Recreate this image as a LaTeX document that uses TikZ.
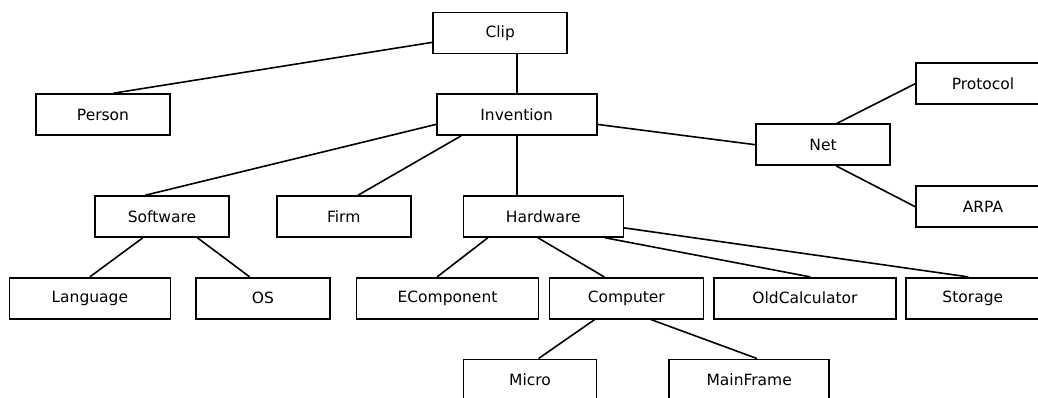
\documentclass[tikz,border=0pt]{standalone}
\usepackage{fontspec}
\setmainfont{DejaVu Sans}
\usepackage{tikz}
\usetikzlibrary{calc}
\tikzstyle{box} = [draw,rectangle,line width=1.6pt,minimum height=41pt,inner sep=0pt,
	font=\fontsize{15.5}{18}\selectfont]
\tikzstyle{link} = [line width=1.6pt]

\begin{document}
\begin{tikzpicture}[x=1pt,y=-1pt]
   \clip (0,0) rectangle (1038,397);
   % top levels
   \node[box,minimum width=134pt] (clip) at (500.2,32.8) {Clip};
   \node[box,minimum width=134pt] (person) at (103,114.5) {Person};
   \node[box,minimum width=160pt] (invention) at (516.7,114.5) {Invention};
   \node[box,minimum width=134pt] (net) at (823,144.7) {Net};
   \node[box,minimum width=134pt] (protocol) at (983,83.7) {Protocol};
   \node[box,minimum width=134pt] (arpa) at (983,206.7) {ARPA};
   \node[box,minimum width=134pt] (software) at (162,216.5) {Software};
   \node[box,minimum width=134pt] (firm) at (343.7,216.5) {Firm};
   \node[box,minimum width=160pt] (hardware) at (543.3,216.5) {Hardware};
   % leaves
   \node[box,minimum width=161pt] (language) at (89.8,298.2) {Language};
   \node[box,minimum width=134pt] (os) at (263,298.2) {OS};
   \node[box,minimum width=182pt] (ecomp) at (447.5,298.2) {EComponent};
   \node[box,minimum width=154pt] (computer) at (626.3,298.2) {Computer};
   \node[box,minimum width=182pt] (oldcalc) at (805,298.2) {OldCalculator};
   \node[box,minimum width=134pt] (storage) at (972.8,298.2) {Storage};
   \node[box,minimum width=133pt] (micro) at (530,379.8) {Micro};
   \node[box,minimum width=160pt] (mainframe) at (749.2,379.8) {MainFrame};

   \draw[link] (clip.188) -- (person.64);
   \draw[link] (invention.north) -- (invention.north |- clip.south);
   \draw[link] (invention.187.5) -- (software.128);
   \draw[link] (invention.201) -- (firm.56.8);
   \draw[link] (invention.south) -- (invention.south |- hardware.north);
   \draw[link] (invention.353) -- (net.west);
   \draw[link] (net.57.5) -- (protocol.west);
   \draw[link] (net.302.5) -- (arpa.west);
   \draw[link] (software.228) -- (language.north);
   \draw[link] (software.329) -- (os.122.4);
   \draw[link] (hardware.201.3) -- (ecomp.116.5);
   \draw[link] (hardware.256.5) -- (computer.136.1);
   \draw[link] (hardware.341.8) -- (oldcalc.76);
   \draw[link] (hardware.352.3) -- (storage.102.4);
   \draw[link] (computer.214) -- (micro.68);
   \draw[link] (computer.319) -- (mainframe.70);
\end{tikzpicture}
\end{document}
